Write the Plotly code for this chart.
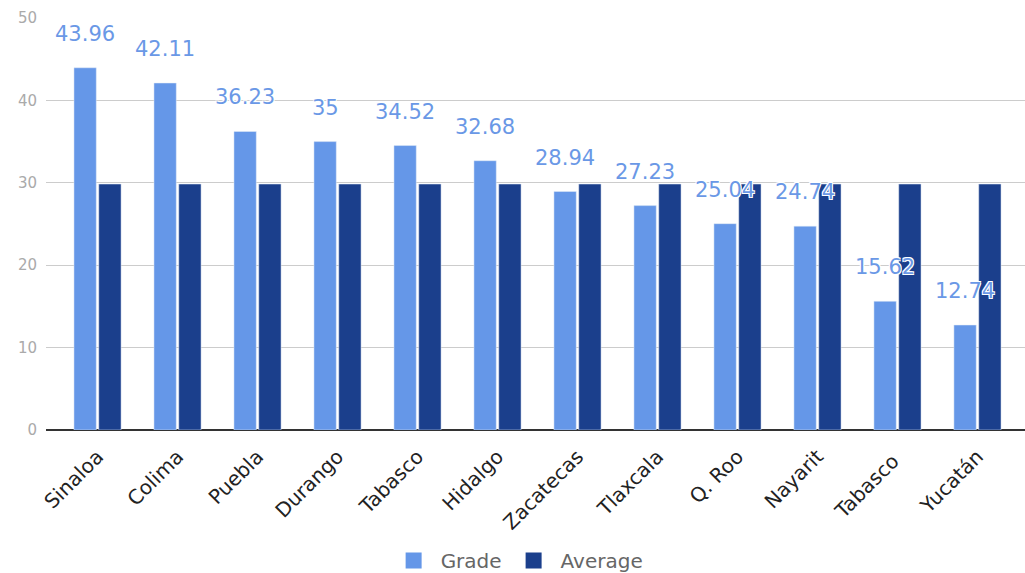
import plotly.graph_objects as go

states = ["Sinaloa", "Colima", "Puebla", "Durango", "Tabasco", "Hidalgo", "Zacatecas",
          "Tlaxcala", "Q. Roo", "Nayarit", "Tabasco ", "Yucatán"]
grade = [43.96, 42.11, 36.23, 35, 34.52, 32.68, 28.94, 27.23, 25.04, 24.74, 15.62, 12.74]
average = [29.85] * 12
grade_labels = ["43.96", "42.11", "36.23", "35", "34.52", "32.68", "28.94", "27.23",
                "25.04", "24.74", "15.62", "12.74"]
y_ticks = [0, 10, 20, 30, 40, 50]

GRADE_C = "#6597e8"
AVG_C = "#1b3f8c"
FONT = "DejaVu Sans"

fig = go.Figure()
fig.add_trace(go.Bar(name="Grade", x=states, y=grade, marker_color=GRADE_C, showlegend=False))
fig.add_trace(go.Bar(name="Average", x=states, y=average, marker_color=AVG_C, showlegend=False))
# legend entries with larger square swatches
fig.add_trace(go.Scatter(name="Grade", x=[None], y=[None], mode="markers",
                         marker=dict(symbol="square", size=22, color=GRADE_C)))
fig.add_trace(go.Scatter(name="Average", x=[None], y=[None], mode="markers",
                         marker=dict(symbol="square", size=22, color=AVG_C)))

for s, v, t in zip(states, grade, grade_labels):
    fig.add_annotation(x=s, y=v, text=t, showarrow=False, xshift=-12.4, yshift=34,
                       font=dict(family=FONT, size=21, color="#6a98e6",
                                 shadow="1px 1px 0 #fff, -1px -1px 0 #fff, 1px -1px 0 #fff, -1px 1px 0 #fff"))

fig.update_layout(
    width=1025, height=573,
    margin=dict(l=46, r=0, t=18, b=143, autoexpand=False),
    paper_bgcolor="white", plot_bgcolor="white",
    barmode="group", bargap=0.38, bargroupgap=0.1,
    font=dict(family=FONT),
    legend=dict(orientation="h", xref="container", x=0.505, xanchor="center",
                yref="container", y=0.022, yanchor="middle",
                font=dict(family=FONT, size=20, color="#666"), itemwidth=44,
                tracegroupgap=0),
    xaxis=dict(range=[-0.644, 11.594], tickangle=-45, showgrid=False, showline=False,
               tickfont=dict(family=FONT, size=20, color="#222"), ticks="",
               ticklabelstandoff=10, automargin=False),
    yaxis=dict(range=[0, 50], tickvals=y_ticks, showgrid=True, gridcolor="#cccccc",
               gridwidth=1, zeroline=True, zerolinecolor="#333333", zerolinewidth=1.5,
               tickfont=dict(family=FONT, size=15, color="#aaaaaa"), ticks="",
               ticklabelstandoff=8, automargin=False),
)

fig.write_html("out.html")
